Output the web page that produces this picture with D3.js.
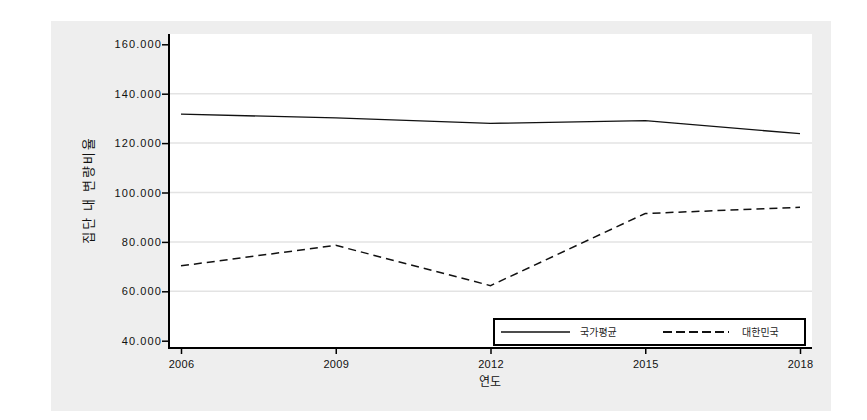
<!DOCTYPE html>
<html><head><meta charset="utf-8">
<script src="https://cdn.jsdelivr.net/npm/d3@7"></script>
<style>body{margin:0;background:#fff}svg{display:block}text{font-family:"Noto Sans CJK KR","DejaVu Sans",sans-serif}</style>
</head><body><svg id="c" width="867" height="420"></svg>
<script>
const years = [2006, 2009, 2012, 2015, 2018];
const nationalAvg = [131.7, 130.2, 128.0, 129.1, 123.8];
const korea = [70.3, 78.6, 62.3, 91.5, 94.0];
const yTicks = [40, 60, 80, 100, 120, 140, 160];
const seriesNames = ["국가평균", "대한민국"];

const svg = d3.select("#c");
svg.append("rect").attr("x",51).attr("y",21).attr("width",780).attr("height",390).attr("fill","#eeeeee");
const L=169,R=812,T=34,B=348;
svg.append("rect").attr("x",L).attr("y",T).attr("width",R-L).attr("height",B-T).attr("fill","#fff");

const x = d3.scaleLinear().domain([2006,2018]).range([181,800]);
const y = d3.scaleLinear().domain([40,160]).range([340.7,44.3]);

// gridlines
svg.append("g").selectAll("line").data(yTicks.filter(t=>t>40&&t<160)).join("line")
  .attr("x1",L).attr("x2",R).attr("y1",d=>y(d)).attr("y2",d=>y(d))
  .attr("stroke","#e3e3e3").attr("stroke-width",1.5);

// y axis
const ya = svg.append("g").attr("transform",`translate(${L},0)`)
  .call(d3.axisLeft(y).tickValues(yTicks).tickSize(7).tickPadding(0).tickFormat(d3.format(".3f")));
ya.select(".domain").remove();
ya.selectAll(".tick line").attr("stroke","#000").attr("stroke-width",1.5);
ya.selectAll(".tick text").attr("font-size",11).attr("fill","#111").attr("letter-spacing","1.1px").style("font-family","'Liberation Sans', Arial, sans-serif");
svg.append("line").attr("x1",L).attr("x2",L).attr("y1",T).attr("y2",B+1).attr("stroke","#000").attr("stroke-width",2);

// x axis
const xa = svg.append("g").attr("transform",`translate(0,${B})`)
  .call(d3.axisBottom(x).tickValues(years).tickSize(6).tickPadding(6).tickFormat(d3.format("d")));
xa.select(".domain").remove();
xa.selectAll(".tick line").attr("stroke","#000").attr("stroke-width",1.5);
xa.selectAll(".tick text").attr("font-size",11).attr("fill","#111").attr("letter-spacing","0.3px").style("font-family","'Liberation Sans', Arial, sans-serif");
svg.append("line").attr("x1",L-1).attr("x2",R).attr("y1",B).attr("y2",B).attr("stroke","#000").attr("stroke-width",2);

// lines
const line = d3.line().x((d,i)=>x(years[i])).y(d=>y(d));
svg.append("path").datum(nationalAvg).attr("d",line).attr("fill","none").attr("stroke","#111").attr("stroke-width",1.3);
svg.append("path").datum(korea).attr("d",line).attr("fill","none").attr("stroke","#111").attr("stroke-width",1.5).attr("stroke-dasharray","8,5");

// axis titles
svg.append("text").attr("x",490).attr("y",386).attr("text-anchor","middle").attr("font-size",12).attr("fill","#111").text("연도");
svg.append("text").attr("transform","translate(93,190) rotate(-90)").attr("text-anchor","middle").attr("font-size",13).attr("fill","#111").attr("letter-spacing","2px").text("집단 내 변량비율");

// legend
const lg = svg.append("g");
lg.append("rect").attr("x",494).attr("y",319).attr("width",311).attr("height",26).attr("fill","#fff").attr("stroke","#000").attr("stroke-width",2);
lg.append("line").attr("x1",501).attr("x2",570).attr("y1",332).attr("y2",332).attr("stroke","#111").attr("stroke-width",1.5);
lg.append("text").attr("x",580).attr("y",336).attr("font-size",10).attr("fill","#222").text(seriesNames[0]);
lg.append("line").attr("x1",663).attr("x2",729).attr("y1",332).attr("y2",332).attr("stroke","#111").attr("stroke-width",2).attr("stroke-dasharray","9,4");
lg.append("text").attr("x",742).attr("y",336).attr("font-size",10).attr("fill","#222").text(seriesNames[1]);
</script></body></html>
